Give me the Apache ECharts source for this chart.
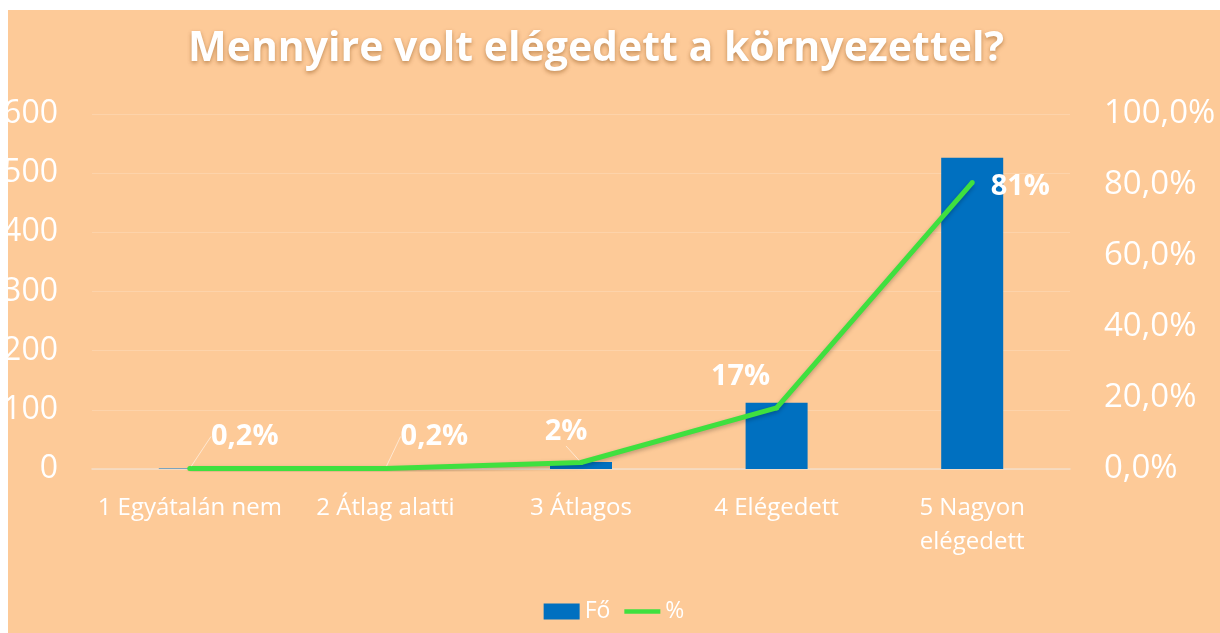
<!DOCTYPE html>
<html><head><meta charset="utf-8">
<script src="https://cdn.jsdelivr.net/npm/echarts@6/dist/echarts.min.js"></script>
<style>
html,body{margin:0;padding:0;background:#fff;width:1220px;height:633px;overflow:hidden}
#c{position:absolute;left:8px;top:10px;width:1212px;height:623px}
</style></head>
<body><div id="c"></div>
<script>
const categories = ['1 Egyátalán nem', '2 Átlag alatti', '3 Átlagos', '4 Elégedett', '5 Nagyon\nelégedett'];
const foValues = [1, 1, 12, 112, 526];
const pctValues = [0.15, 0.15, 1.84, 17.2, 80.7];
const pctLabels = ['0,2%', '0,2%', '2%', '17%', '81%'];
const leftTicks = { min: 0, max: 600, interval: 100 };
const rightTicks = { min: 0, max: 100, interval: 20 };

const labelPos = ['top', 'top', 'top', 'top', 'right'];
const labelShift = [[55, -10], [49, -10], [-15, -9], [-36, -9], [11, 4]];
const leaderLine = [true, true, true, false, false];
const lineData = pctValues.map((v, i) => ({
  value: v,
  label: { position: labelPos[i] },
  labelLine: { show: leaderLine[i] }
}));

const chart = echarts.init(document.getElementById('c'));
const font = "'Open Sans', sans-serif";
chart.setOption({
  backgroundColor: '#FDCA98',
  animation: false,
  title: {
    text: 'Mennyire volt elégedett a környezettel?',
    left: 175,
    top: 14,
    textStyle: {
      color: '#fff', fontFamily: font, fontWeight: 'bold', fontSize: 41,
      textShadowColor: 'rgba(120,60,0,0.45)', textShadowBlur: 4, textShadowOffsetY: 2
    }
  },
  legend: {
    bottom: 5,
    left: 'center',
    itemGap: 14,
    itemWidth: 36,
    itemHeight: 16,
    textStyle: { color: '#fff', fontFamily: font, fontSize: 23 },
    data: [
      { name: 'Fő', icon: 'rect' },
      { name: '%', icon: 'path://M0,0 L40,0 L40,5 L0,5 Z', itemStyle: { color: '#3FE03F' } }
    ]
  },
  grid: { left: 84, right: 150, top: 104, bottom: 164, containLabel: false, outerBoundsMode: 'none' },
  xAxis: {
    type: 'category',
    data: categories,
    axisLine: { lineStyle: { color: '#F3DEC8', width: 1.5 } },
    axisTick: { show: false },
    axisLabel: { color: '#fff', fontFamily: font, fontSize: 24, margin: 22, lineHeight: 34, interval: 0 }
  },
  yAxis: [{
    type: 'value', ...leftTicks,
    axisLine: { show: false }, axisTick: { show: false },
    splitLine: { lineStyle: { color: 'rgba(255,255,255,0.18)', width: 1 } },
    axisLabel: { color: '#fff', fontFamily: font, fontSize: 32, margin: 34 }
  }, {
    type: 'value', ...rightTicks,
    axisLine: { show: false }, axisTick: { show: false },
    splitLine: { show: false },
    axisLabel: {
      color: '#fff', fontFamily: font, fontSize: 33, margin: 34,
      formatter: v => v.toFixed(1).replace('.', ',') + '%'
    }
  }],
  series: [{
    name: 'Fő',
    type: 'bar',
    data: foValues,
    barWidth: 62,
    itemStyle: { color: '#0070C0' }
  }, {
    name: '%',
    type: 'line',
    yAxisIndex: 1,
    data: lineData,
    symbol: 'circle',
    symbolSize: 5,
    showSymbol: true,
    lineStyle: { color: '#3FE03F', width: 5, shadowColor: 'rgba(0,0,0,0.25)', shadowBlur: 4, shadowOffsetY: 2 },
    itemStyle: { color: '#3FE03F' },
    label: {
      show: true,
      color: '#fff', fontFamily: font, fontWeight: 'bold', fontSize: 29,
      formatter: p => pctLabels[p.dataIndex]
    },
    labelLine: { show: true, smooth: false, lineStyle: { color: 'rgba(255,255,255,0.55)', width: 1 } },
    labelLayout: p => ({ dx: labelShift[p.dataIndex][0], dy: labelShift[p.dataIndex][1] })
  }]
});
</script></body></html>
